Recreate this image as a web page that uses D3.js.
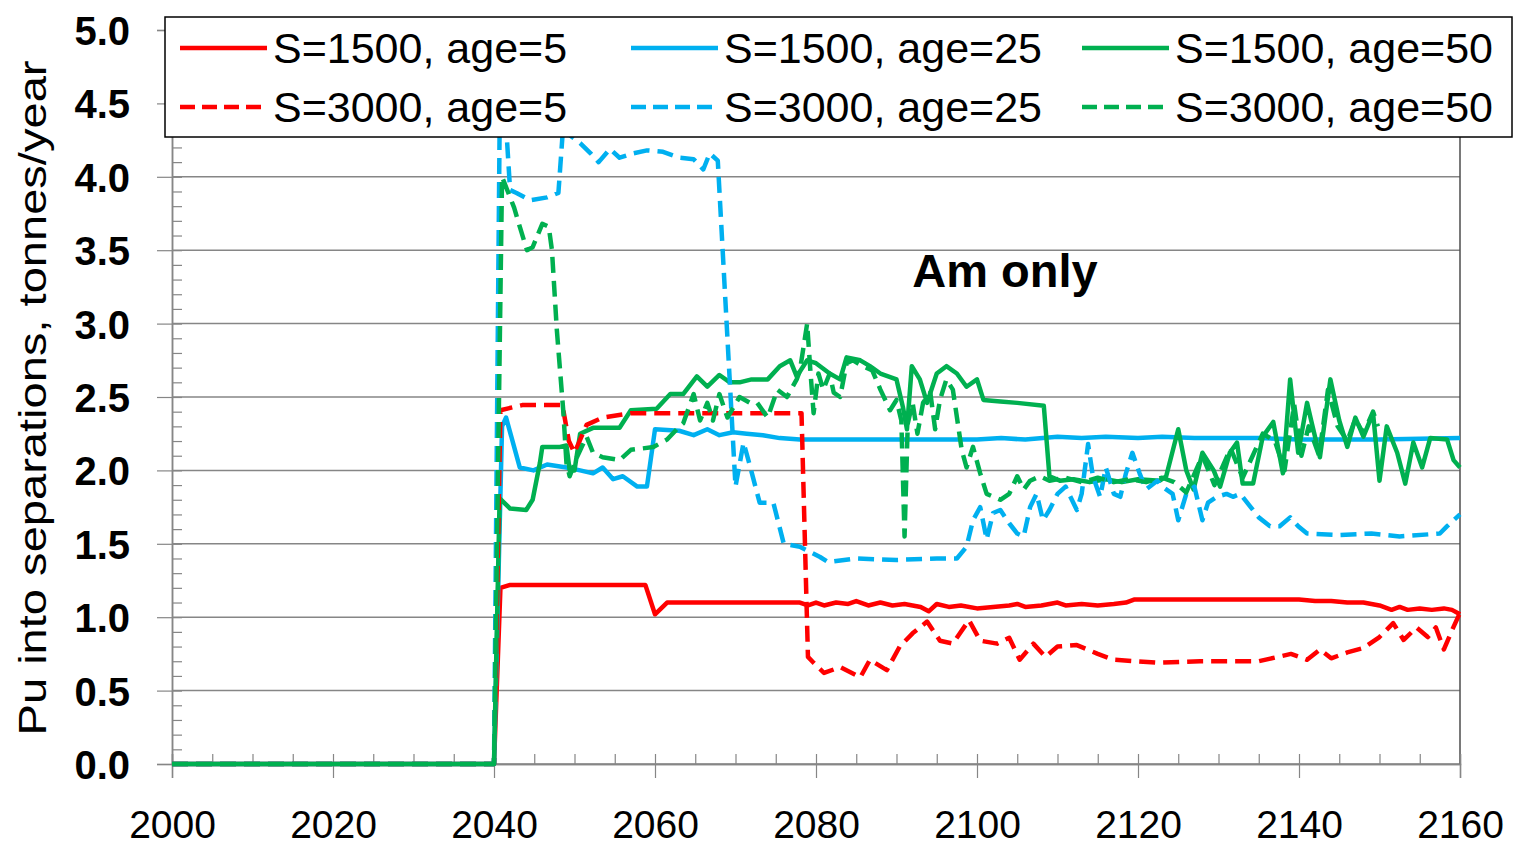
<!DOCTYPE html>
<html>
<head>
<meta charset="utf-8">
<script src="https://cdn.jsdelivr.net/npm/d3@7"></script>
<style>
  html, body { margin: 0; padding: 0; background: #fff; }
  svg { display: block; font-family: 'Liberation Sans', Arial, sans-serif; }
</style>
</head>
<body>
<svg id="chart" width="1516" height="847"></svg>
<script>
// [year, tonnes/year]
const s1500Age5 = [
  [2000, 0], [2040, 0], [2040.8, 1.2], [2042, 1.22], [2050, 1.22], [2058.8, 1.22], [2060, 1.02], [2061.5, 1.1],
  [2070, 1.1], [2078, 1.1], [2079, 1.08], [2080, 1.1], [2081, 1.08], [2082.5, 1.1], [2084, 1.09], [2085, 1.11],
  [2086.5, 1.08], [2088, 1.1], [2089.5, 1.08], [2091, 1.09], [2093, 1.07], [2094, 1.04], [2095, 1.09], [2096.5, 1.07],
  [2098, 1.08], [2100, 1.06], [2102, 1.07], [2104, 1.08], [2105, 1.09], [2106, 1.07], [2108, 1.08], [2110, 1.1],
  [2111, 1.08], [2113, 1.09], [2115, 1.08], [2117, 1.09], [2118.5, 1.1], [2119.5, 1.12], [2125, 1.12], [2135, 1.12],
  [2140, 1.12], [2142, 1.11], [2144, 1.11], [2146, 1.1], [2148, 1.1], [2150, 1.08], [2151.5, 1.05], [2152.5, 1.07],
  [2153.5, 1.05], [2155, 1.06], [2156.5, 1.05], [2158, 1.06], [2159, 1.05], [2160, 1.02]
]
const s1500Age25 = [
  [2000, 0], [2040, 0], [2041, 2.3], [2041.5, 2.36], [2042.5, 2.16], [2043.2, 2.02], [2044.9, 2.0], [2046.6, 2.04],
  [2049, 2.02], [2050.7, 2.0], [2052.3, 1.98], [2053.5, 2.02], [2054.8, 1.94], [2056, 1.96], [2057.8, 1.89], [2059, 1.89],
  [2060, 2.28], [2063, 2.27], [2064.8, 2.24], [2066.5, 2.28], [2068, 2.24], [2069.7, 2.26], [2071.4, 2.25], [2073.4, 2.24],
  [2075.5, 2.22], [2078, 2.21], [2090, 2.21], [2100, 2.21], [2103, 2.22], [2106, 2.21], [2110, 2.23], [2113, 2.22],
  [2116, 2.23], [2120, 2.22], [2123, 2.23], [2127, 2.22], [2135, 2.22], [2140, 2.21], [2150, 2.21], [2160, 2.22]
]
const s1500Age50 = [
  [2000, 0], [2040, 0], [2040.7, 1.81], [2042, 1.74], [2044, 1.73], [2044.8, 1.8], [2045.7, 2.05], [2046, 2.16],
  [2048.2, 2.16], [2049, 2.17], [2049.4, 2.0], [2050, 2.0], [2050.7, 2.25], [2052.3, 2.29], [2055.6, 2.29], [2057, 2.41],
  [2060.2, 2.42], [2061.9, 2.52], [2063.5, 2.52], [2065.2, 2.64], [2066.5, 2.57], [2068, 2.65], [2069.3, 2.6], [2070.5, 2.6],
  [2072, 2.62], [2074, 2.62], [2075.5, 2.71], [2076.8, 2.75], [2077.6, 2.64], [2078.9, 2.75], [2080, 2.73], [2081.7, 2.66],
  [2083, 2.62], [2083.8, 2.77], [2085.5, 2.75], [2086.7, 2.71], [2088, 2.66], [2090, 2.62], [2090.8, 2.43], [2091.3, 2.28],
  [2091.9, 2.71], [2092.9, 2.62], [2093.8, 2.46], [2095, 2.66], [2096.2, 2.71], [2097.5, 2.66], [2098.7, 2.57], [2100, 2.62],
  [2100.8, 2.48], [2102.9, 2.47], [2105, 2.46], [2108.3, 2.44], [2109, 1.96], [2110.3, 1.93], [2112, 1.94], [2114, 1.92],
  [2116, 1.94], [2118, 1.92], [2120, 1.94], [2122.7, 1.93], [2123.5, 1.96], [2125, 2.28], [2126, 2.0], [2126.9, 1.87],
  [2128, 2.12], [2129.4, 2.0], [2130.2, 1.89], [2131.4, 2.12], [2132.3, 2.19], [2133, 1.91], [2134.3, 1.91], [2135.5, 2.23],
  [2136.8, 2.33], [2138, 1.98], [2138.9, 2.62], [2139.9, 2.12], [2141, 2.46], [2141.6, 2.32], [2142.6, 2.09], [2143.9, 2.62],
  [2145, 2.34], [2146, 2.16], [2147, 2.36], [2148, 2.23], [2149.2, 2.39], [2150, 1.93], [2150.9, 2.3], [2152.2, 2.12],
  [2153.2, 1.91], [2154.2, 2.19], [2155.3, 2.02], [2156.3, 2.22], [2158.4, 2.21], [2159.2, 2.07], [2160, 2.02]
]
const s3000Age5 = [
  [2000, 0], [2040, 0], [2040.8, 2.41], [2043.5, 2.445], [2048.5, 2.445], [2049.3, 2.2], [2050, 2.12], [2051.5, 2.31],
  [2053.5, 2.36], [2057, 2.39], [2065, 2.39], [2078.2, 2.39], [2079, 0.73], [2079.7, 0.69], [2081, 0.62], [2083, 0.66],
  [2085.5, 0.59], [2086.7, 0.71], [2088.8, 0.64], [2090.4, 0.8], [2092, 0.89], [2093.8, 0.97], [2095.4, 0.84], [2097, 0.82],
  [2099, 0.98], [2100.4, 0.84], [2102.5, 0.82], [2104, 0.86], [2105.3, 0.71], [2107, 0.82], [2108.5, 0.73], [2110, 0.8],
  [2112.4, 0.81], [2115, 0.75], [2117, 0.71], [2122.7, 0.69], [2127.7, 0.7], [2135, 0.7], [2139, 0.75], [2141, 0.71],
  [2142.6, 0.78], [2144, 0.72], [2146, 0.76], [2148, 0.79], [2150, 0.865], [2151.7, 0.96], [2153, 0.845], [2154.6, 0.93],
  [2156, 0.865], [2157, 0.93], [2158, 0.78], [2159, 0.91], [2160, 1.03]
]
const s3000Age25 = [
  [2000, 0], [2040, 0], [2040.7, 4.35], [2041.5, 4.35], [2042, 3.91], [2042.8, 3.89], [2044.5, 3.84], [2046.6, 3.86],
  [2048, 3.89], [2048.6, 4.35], [2049.5, 4.28], [2050.7, 4.23], [2052, 4.16], [2053, 4.1], [2054.4, 4.19], [2055.6, 4.13],
  [2057.3, 4.16], [2059, 4.18], [2061, 4.17], [2063, 4.13], [2064.8, 4.12], [2066, 4.05], [2066.8, 4.16], [2067.8, 4.11],
  [2070, 1.89], [2071, 2.19], [2071.8, 2.03], [2073, 1.78], [2074.7, 1.78], [2076, 1.5], [2078, 1.48], [2080.5, 1.41],
  [2081.5, 1.375], [2085, 1.4], [2090, 1.39], [2095, 1.4], [2097.5, 1.4], [2098.7, 1.48], [2099.5, 1.66], [2100.4, 1.75],
  [2101.2, 1.53], [2102, 1.71], [2102.9, 1.73], [2104, 1.64], [2105, 1.57], [2105.8, 1.55], [2106.6, 1.75], [2107.4, 1.84],
  [2108.2, 1.66], [2109, 1.73], [2110, 1.84], [2111, 1.89], [2112.4, 1.73], [2113, 1.84], [2113.8, 2.18], [2114.4, 1.96],
  [2115.3, 1.82], [2116, 2.02], [2117, 1.84], [2117.8, 1.82], [2118.5, 1.98], [2119.3, 2.12], [2120.2, 1.98], [2121, 1.87],
  [2122.4, 1.93], [2123, 1.89], [2124.3, 1.84], [2125, 1.66], [2126, 1.84], [2127, 1.89], [2128, 1.66], [2128.7, 1.78],
  [2129.8, 1.82], [2131, 1.84], [2131.8, 1.82], [2132.7, 1.84], [2134, 1.75], [2135, 1.68], [2136.4, 1.62], [2137.6, 1.62],
  [2138.9, 1.68], [2139.9, 1.62], [2141, 1.57], [2145, 1.56], [2149, 1.57], [2152.5, 1.55], [2157.5, 1.57], [2158.4, 1.62],
  [2160, 1.7]
]
const s3000Age50 = [
  [2000, 0], [2040, 0], [2041, 4.0], [2042, 3.86], [2042.5, 3.79], [2043.2, 3.66], [2044.1, 3.5], [2044.8, 3.52],
  [2046, 3.68], [2046.8, 3.66], [2047.2, 3.5], [2047.8, 2.96], [2048.6, 2.41], [2049, 2.05], [2049.4, 1.96], [2050.3, 2.09],
  [2051.5, 2.23], [2052.3, 2.12], [2053.5, 2.09], [2055.6, 2.07], [2057, 2.14], [2058.5, 2.15], [2059.8, 2.16], [2061.5, 2.21],
  [2062.7, 2.28], [2063.5, 2.32], [2064.8, 2.52], [2065.6, 2.34], [2066.5, 2.46], [2067.2, 2.34], [2068, 2.52], [2069, 2.36],
  [2070.5, 2.5], [2071.8, 2.46], [2072.7, 2.46], [2074, 2.36], [2075.2, 2.55], [2076.4, 2.5], [2077.6, 2.62], [2078, 2.68],
  [2078.9, 3.0], [2079.3, 2.68], [2079.7, 2.39], [2080.3, 2.66], [2080.9, 2.55], [2081.7, 2.66], [2082.2, 2.53], [2083, 2.5],
  [2083.8, 2.73], [2084.6, 2.75], [2085.8, 2.71], [2087, 2.68], [2088, 2.55], [2089.2, 2.41], [2090, 2.48], [2090.6, 2.34],
  [2091, 1.55], [2091.4, 2.32], [2092, 2.46], [2092.6, 2.25], [2093.3, 2.46], [2094.2, 2.53], [2094.8, 2.28], [2095.4, 2.48],
  [2096.2, 2.62], [2097, 2.55], [2098.1, 2.14], [2098.7, 2.02], [2099.5, 2.16], [2100.4, 1.98], [2101.2, 1.84], [2102.9, 1.8],
  [2104, 1.84], [2105, 1.96], [2105.8, 1.87], [2106.6, 1.93], [2107.8, 1.96], [2109, 1.93], [2111, 1.95], [2113, 1.92],
  [2115, 1.95], [2117, 1.92], [2119, 1.94], [2121, 1.92], [2123, 1.95], [2124.5, 1.92], [2126, 1.85], [2128, 2.1],
  [2129.5, 1.9], [2131.5, 2.15], [2133, 1.95], [2135.5, 2.25], [2137, 2.2], [2138.2, 2.0], [2139.4, 2.45], [2140.3, 2.1],
  [2141.2, 2.3], [2142.5, 2.1], [2143.6, 2.55], [2144.8, 2.3], [2146, 2.2], [2147, 2.35], [2148, 2.25], [2149.2, 2.4],
  [2149.8, 2.3]
]

const seriesNames = ['S=1500, age=5', 'S=1500, age=25', 'S=1500, age=50', 'S=3000, age=5', 'S=3000, age=25', 'S=3000, age=50']
const seriesValues = [s1500Age5, s1500Age25, s1500Age50, s3000Age5, s3000Age25, s3000Age50]
const seriesColors = ['#ff0000', '#00b0f0', '#00b050', '#ff0000', '#00b0f0', '#00b050']
const seriesDashed = [false, false, false, true, true, true]

const xMajorTicks = [2000, 2020, 2040, 2060, 2080, 2100, 2120, 2140, 2160]
const yMajorTicks = [0, 0.5, 1, 1.5, 2, 2.5, 3, 3.5, 4, 4.5, 5]
const yTitle = 'Pu into separations, tonnes/year'
const noteText = 'Am only'

const plot = { left: 172, right: 1460, top: 30, bottom: 764 }
const gridColor = '#868686'
const dash = '16,8'

const svg = d3.select('#chart')

const x = d3.scaleLinear().domain([2000, 2160]).range([plot.left, plot.right])
const y = d3.scaleLinear().domain([0, 5]).range([plot.bottom, plot.top])

function drawGrid() {
  svg
    .append('g')
    .attr('class', 'grid')
    .selectAll('line')
    .data(yMajorTicks)
    .join('line')
    .attr('x1', plot.left)
    .attr('x2', plot.right)
    .attr('y1', (d) => y(d))
    .attr('y2', (d) => y(d))
    .attr('stroke', gridColor)
    .attr('stroke-width', 1.5)

  // right border of the plot area
  svg
    .append('line')
    .attr('x1', plot.right)
    .attr('x2', plot.right)
    .attr('y1', plot.top)
    .attr('y2', plot.bottom)
    .attr('stroke', '#4d4d4d')
    .attr('stroke-width', 1.5)
}

function styleAxis(g) {
  g.selectAll('.domain').attr('stroke', gridColor).attr('stroke-width', 1.5)
  g.selectAll('.tick line').attr('stroke', gridColor).attr('stroke-width', 1.2)
}

function drawAxes() {
  const minorY = d3.range(0, 51).map((i) => i / 10)
  const minorX = d3.range(2000, 2161, 5)

  svg
    .append('g')
    .attr('transform', 'translate(' + plot.left + ',0)')
    .call(d3.axisLeft(y).tickValues(minorY).tickSize(-10).tickFormat(''))
    .call(styleAxis)

  const yAxis = svg
    .append('g')
    .attr('transform', 'translate(' + plot.left + ',0)')
    .call(d3.axisLeft(y).tickValues(yMajorTicks).tickSize(15).tickPadding(27).tickFormat(d3.format('.1f')))
    .call(styleAxis)
  yAxis
    .selectAll('text')
    .attr('font-family', "'Liberation Sans', Arial, sans-serif")
    .attr('font-size', 40)
    .attr('font-weight', 'bold')
    .attr('fill', '#000')
    .attr('dy', '0.36em')

  svg
    .append('g')
    .attr('transform', 'translate(0,' + plot.bottom + ')')
    .call(d3.axisBottom(x).tickValues(minorX).tickSize(-10).tickFormat(''))
    .call(styleAxis)

  const xAxis = svg
    .append('g')
    .attr('transform', 'translate(0,' + plot.bottom + ')')
    .call(d3.axisBottom(x).tickValues(xMajorTicks).tickSize(14).tickPadding(60).tickFormat(d3.format('d')))
    .call(styleAxis)
  xAxis
    .selectAll('text')
    .attr('font-family', "'Liberation Sans', Arial, sans-serif")
    .attr('font-size', 39)
    .attr('fill', '#000')
    .attr('dy', '0')

  svg
    .append('text')
    .attr('transform', 'translate(46,398)rotate(-90)')
    .attr('text-anchor', 'middle')
    .attr('font-size', 38)
    .attr('textLength', 675)
    .attr('lengthAdjust', 'spacingAndGlyphs')
    .text(yTitle)
}

function drawSeries() {
  const line = d3
    .line()
    .x((d) => x(d[0]))
    .y((d) => y(d[1]))

  seriesValues.forEach(function (values, i) {
    svg
      .append('path')
      .datum(values)
      .attr('class', 'series series-' + i)
      .attr('d', line)
      .attr('fill', 'none')
      .attr('stroke', seriesColors[i])
      .attr('stroke-width', 4.5)
      .attr('stroke-linejoin', 'round')
      .attr('stroke-dasharray', seriesDashed[i] ? dash : null)
  })
}

function drawLegend() {
  const legend = svg.append('g').attr('class', 'legend')
  legend
    .append('rect')
    .attr('x', 165)
    .attr('y', 17)
    .attr('width', 1347)
    .attr('height', 120)
    .attr('fill', '#fff')
    .attr('stroke', '#000')
    .attr('stroke-width', 1.5)

  seriesNames.forEach(function (name, i) {
    const lx = 180 + (i % 3) * 451
    const ly = 48 + Math.floor(i / 3) * 59
    legend
      .append('line')
      .attr('x1', lx)
      .attr('x2', lx + 87)
      .attr('y1', ly)
      .attr('y2', ly)
      .attr('stroke', seriesColors[i])
      .attr('stroke-width', 4.5)
      .attr('stroke-dasharray', seriesDashed[i] ? '15,7' : null)
    legend
      .append('text')
      .attr('x', lx + 93)
      .attr('y', ly)
      .attr('dy', '0.36em')
      .attr('font-size', 43)
      .text(name)
  })
}

drawGrid()
drawAxes()
drawSeries()
drawLegend()

svg
  .append('text')
  .attr('x', 1005)
  .attr('y', 287)
  .attr('text-anchor', 'middle')
  .attr('font-size', 47)
  .attr('font-weight', 'bold')
  .text(noteText)
</script>
</body>
</html>
